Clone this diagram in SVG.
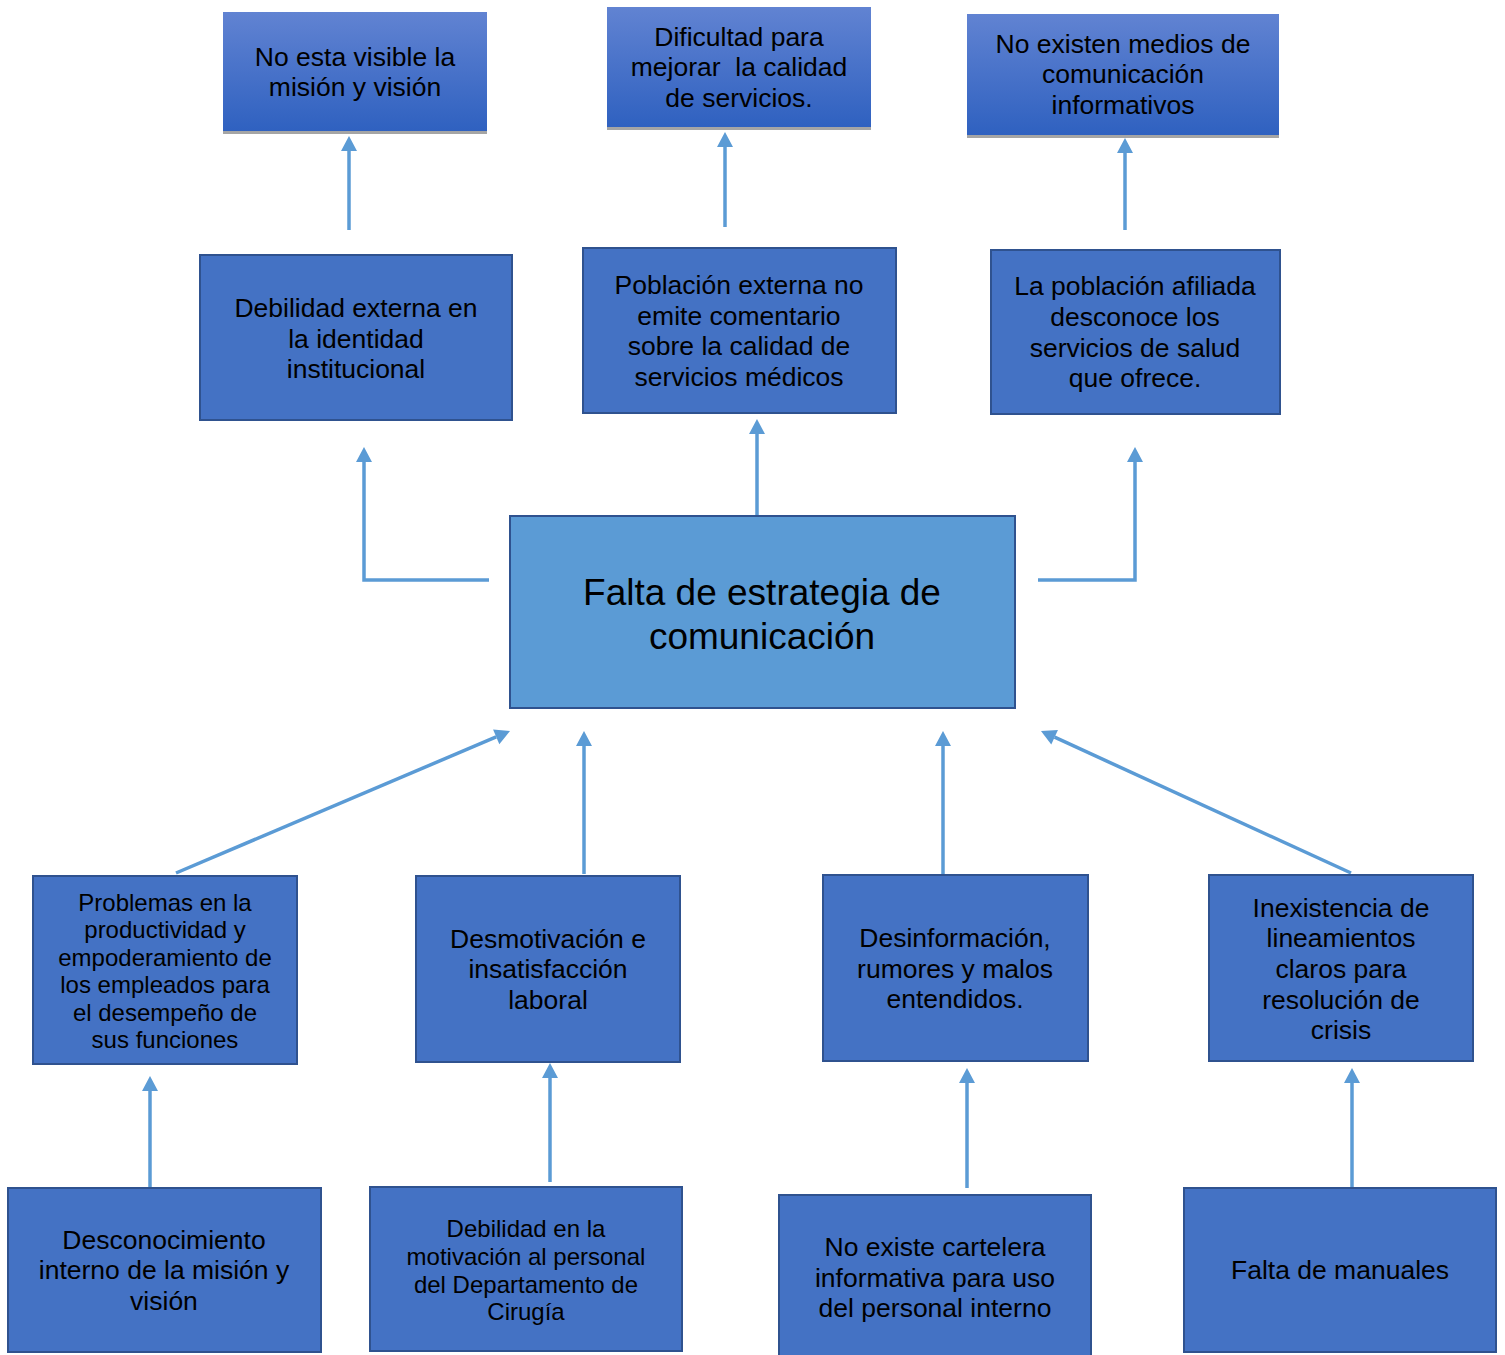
<svg xmlns="http://www.w3.org/2000/svg" width="1505" height="1355" viewBox="0 0 1505 1355">
<defs>
<linearGradient id="g" x1="0" y1="0" x2="0" y2="1">
<stop offset="0" stop-color="#6183D2"/>
<stop offset="1" stop-color="#2F61C0"/>
</linearGradient>
<marker id="ah" markerUnits="userSpaceOnUse" markerWidth="18" markerHeight="18" viewBox="0 -9 16 18" refX="0" refY="0" orient="auto">
<path d="M0,-8 L15,0 L0,8 Z" fill="#5B9BD5"/>
</marker>
<style>
.bx{fill:#4472C4;stroke:#2F528F;stroke-width:2}
.ce{fill:#5B9BD5;stroke:#2F528F;stroke-width:2}
.tp{fill:url(#g)}
.sh{stroke:#A5A5A5;stroke-width:3}
text{font-family:"Liberation Sans",Arial,sans-serif;fill:#000;text-anchor:middle;white-space:pre}
.t26{font-size:26.5px}
.t24{font-size:24px}
.t37{font-size:37px}
.c{fill:none;stroke:#5B9BD5;stroke-width:3.5;marker-end:url(#ah)}
</style>
</defs>

<g id="connectors">
<path class="c" d="M349,230 V151"/>
<path class="c" d="M725,227 V147"/>
<path class="c" d="M1125,230 V153"/>
<path class="c" d="M489,580 H364 V462"/>
<path class="c" d="M757,516 V434"/>
<path class="c" d="M1038,580 H1135 V462"/>
<path class="c" d="M176,873 L496.2,736.9"/>
<path class="c" d="M584,874 V746"/>
<path class="c" d="M943,874 V746"/>
<path class="c" d="M1351,873 L1054.6,737.2"/>
<path class="c" d="M150,1193 V1091"/>
<path class="c" d="M550,1182 V1078"/>
<path class="c" d="M967,1188 V1083"/>
<path class="c" d="M1352,1187 V1083"/>
</g>

<g id="top1">
<rect class="tp" x="223" y="12" width="264" height="119"/>
<line class="sh" x1="223" y1="132.5" x2="487" y2="132.5"/>
<text class="t26" x="355" y="66">No esta visible la</text>
<text class="t26" x="355" y="96">misión y visión</text>
</g>
<g id="top2">
<rect class="tp" x="607" y="7" width="264" height="120"/>
<line class="sh" x1="607" y1="128.5" x2="871" y2="128.5"/>
<text class="t26" x="739" y="46">Dificultad para</text>
<text class="t26" x="739" y="76">mejorar  la calidad</text>
<text class="t26" x="739" y="107">de servicios.</text>
</g>
<g id="top3">
<rect class="tp" x="967" y="14" width="312" height="121"/>
<line class="sh" x1="967" y1="136.5" x2="1279" y2="136.5"/>
<text class="t26" x="1123" y="53">No existen medios de</text>
<text class="t26" x="1123" y="83">comunicación</text>
<text class="t26" x="1123" y="114">informativos</text>
</g>

<g id="mid1">
<rect class="bx" x="200" y="255" width="312" height="165"/>
<text class="t26" x="356" y="317">Debilidad externa en</text>
<text class="t26" x="356" y="348">la identidad</text>
<text class="t26" x="356" y="378">institucional</text>
</g>
<g id="mid2">
<rect class="bx" x="583" y="248" width="313" height="165"/>
<text class="t26" x="739" y="294">Población externa no</text>
<text class="t26" x="739" y="325">emite comentario</text>
<text class="t26" x="739" y="355">sobre la calidad de</text>
<text class="t26" x="739" y="386">servicios médicos</text>
</g>
<g id="mid3">
<rect class="bx" x="991" y="250" width="289" height="164"/>
<text class="t26" x="1135" y="295">La población afiliada</text>
<text class="t26" x="1135" y="326">desconoce los</text>
<text class="t26" x="1135" y="357">servicios de salud</text>
<text class="t26" x="1135" y="387">que ofrece.</text>
</g>

<g id="center">
<rect class="ce" x="510" y="516" width="505" height="192"/>
<text class="t37" x="762" y="605">Falta de estrategia de</text>
<text class="t37" x="762" y="649">comunicación</text>
</g>

<g id="low1">
<rect class="bx" x="33" y="876" width="264" height="188"/>
<text class="t24" x="165" y="910.5">Problemas en la</text>
<text class="t24" x="165" y="938">productividad y</text>
<text class="t24" x="165" y="965.5">empoderamiento de</text>
<text class="t24" x="165" y="993">los empleados para</text>
<text class="t24" x="165" y="1020.5">el desempeño de</text>
<text class="t24" x="165" y="1048">sus funciones</text>
</g>
<g id="low2">
<rect class="bx" x="416" y="876" width="264" height="186"/>
<text class="t26" x="548" y="948">Desmotivación e</text>
<text class="t26" x="548" y="978">insatisfacción</text>
<text class="t26" x="548" y="1009">laboral</text>
</g>
<g id="low3">
<rect class="bx" x="823" y="875" width="265" height="186"/>
<text class="t26" x="955" y="947">Desinformación,</text>
<text class="t26" x="955" y="978">rumores y malos</text>
<text class="t26" x="955" y="1008">entendidos.</text>
</g>
<g id="low4">
<rect class="bx" x="1209" y="875" width="264" height="186"/>
<text class="t26" x="1341" y="917">Inexistencia de</text>
<text class="t26" x="1341" y="947">lineamientos</text>
<text class="t26" x="1341" y="978">claros para</text>
<text class="t26" x="1341" y="1009">resolución de</text>
<text class="t26" x="1341" y="1039">crisis</text>
</g>

<g id="root1">
<rect class="bx" x="8" y="1188" width="313" height="164"/>
<text class="t26" x="164" y="1249">Desconocimiento</text>
<text class="t26" x="164" y="1279">interno de la misión y</text>
<text class="t26" x="164" y="1310">visión</text>
</g>
<g id="root2">
<rect class="bx" x="370" y="1187" width="312" height="164"/>
<text class="t24" x="526" y="1236.5">Debilidad en la</text>
<text class="t24" x="526" y="1264.5">motivación al personal</text>
<text class="t24" x="526" y="1292.5">del Departamento de</text>
<text class="t24" x="526" y="1319.5">Cirugía</text>
</g>
<g id="root3">
<rect class="bx" x="779" y="1195" width="312" height="170"/>
<text class="t26" x="935" y="1256">No existe cartelera</text>
<text class="t26" x="935" y="1287">informativa para uso</text>
<text class="t26" x="935" y="1317">del personal interno</text>
</g>
<g id="root4">
<rect class="bx" x="1184" y="1188" width="312" height="164"/>
<text class="t26" x="1340" y="1279">Falta de manuales</text>
</g>
</svg>
